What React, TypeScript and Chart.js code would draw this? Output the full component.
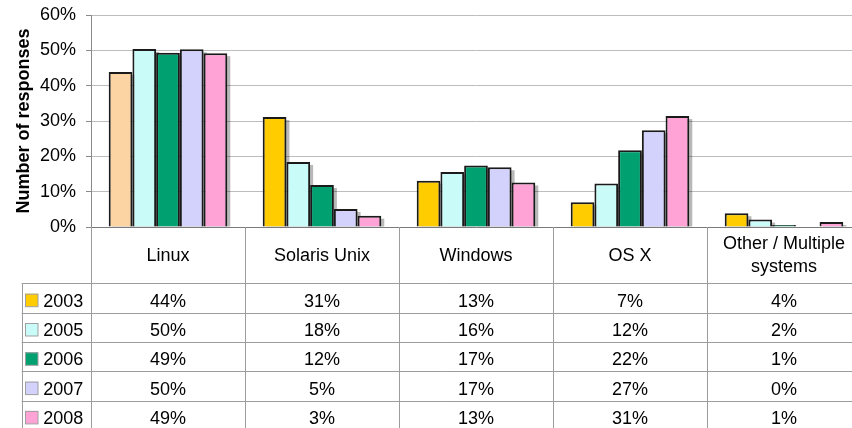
import { useEffect, useRef } from "react";
import { Chart, registerables } from "chart.js";

Chart.register(...registerables);

const categories: string[][] = [
  ["Linux"],
  ["Solaris Unix"],
  ["Windows"],
  ["OS X"],
  ["Other / Multiple", "systems"],
];
const years = ["2003", "2005", "2006", "2007", "2008"];
const values2003 = [43.9, 31.1, 13.1, 7.0, 3.9];
const values2005 = [50.4, 18.4, 15.6, 12.3, 2.1];
const values2006 = [49.3, 11.9, 17.4, 21.7, 0.6];
const values2007 = [50.3, 5.1, 16.9, 27.4, 0];
const values2008 = [49.2, 3.2, 12.6, 31.4, 1.4];
const seriesValues = [values2003, values2005, values2006, values2007, values2008];
const seriesColors = ["#FFCC00", "#C9FCF9", "#00A070", "#D2D2FC", "#FFA3D6"];
const linux2003Color = "#FCD3A3";
const yTicks = [0, 10, 20, 30, 40, 50, 60];

const FONT = "'Liberation Sans', Arial, Helvetica, sans-serif";

const shadowPlugin = {
  id: "barShadow",
  beforeDatasetsDraw(chart: any) {
    const ctx = chart.ctx;
    ctx.save();
    ctx.fillStyle = "rgba(0,0,0,0.28)";
    chart.data.datasets.forEach((_: any, di: number) => {
      const meta = chart.getDatasetMeta(di);
      meta.data.forEach((bar: any) => {
        const { x, y, base, width } = bar.getProps(["x", "y", "base", "width"], true);
        const h = base - y;
        if (h > 4) ctx.fillRect(x - width / 2 + 3, y + 3, width, h - 3);
      });
    });
    ctx.restore();
  },
};

const tablePlugin = {
  id: "dataTable",
  afterDraw(chart: any) {
    const { ctx, chartArea } = chart;
    const n = categories.length;
    const step = (chartArea.right - chartArea.left) / n;
    const top = chartArea.bottom;
    const headerBottom = top + 56.3;
    const rowH = 29.3;
    const legendLeft = 21.7;
    const tableBottom = headerBottom + rowH * years.length;
    const crisp = (v: number) => Math.round(v) + 0.5;
    ctx.save();
    ctx.strokeStyle = "#9c9c9c";
    ctx.lineWidth = 1;
    ctx.beginPath();
    for (let i = 0; i <= n; i++) {
      const x = crisp(chartArea.left + i * step);
      ctx.moveTo(x, top);
      ctx.lineTo(x, tableBottom);
    }
    ctx.moveTo(crisp(legendLeft), headerBottom);
    ctx.lineTo(crisp(legendLeft), tableBottom);
    for (let r = 0; r <= years.length; r++) {
      const y = crisp(headerBottom + r * rowH);
      ctx.moveTo(legendLeft, y);
      ctx.lineTo(chart.width, y);
    }
    ctx.stroke();

    ctx.fillStyle = "#000";
    ctx.font = `18px ${FONT}`;
    ctx.textBaseline = "alphabetic";
    ctx.textAlign = "center";
    categories.forEach((lines, i) => {
      const cx = chartArea.left + (i + 0.5) * step;
      if (lines.length === 1) {
        ctx.fillText(lines[0], cx, top + 33.7);
      } else {
        ctx.fillText(lines[0], cx, top + 22.3);
        ctx.fillText(lines[1], cx, top + 44.7);
      }
    });
    years.forEach((yr, r) => {
      const base = headerBottom + r * rowH + 23.4;
      seriesValues[r].forEach((v, i) => {
        const cx = chartArea.left + (i + 0.5) * step;
        ctx.fillText(Math.round(v) + "%", cx, base);
      });
      ctx.fillStyle = seriesColors[r];
      ctx.fillRect(25, base - 13, 13, 13);
      ctx.strokeStyle = "#a0a0a0";
      ctx.strokeRect(25.5, base - 12.5, 12.5, 12.5);
      ctx.fillStyle = "#000";
      ctx.textAlign = "left";
      ctx.fillText(yr, 43.3, base);
      ctx.textAlign = "center";
    });
    ctx.restore();
  },
};

export default function App() {
  const ref = useRef<HTMLCanvasElement>(null);
  useEffect(() => {
    document.body.style.margin = "0";
    const chart = new Chart(ref.current!, {
      type: "bar",
      data: {
        labels: categories.map((c) => c.join(" ")),
        datasets: years.map((yr, r) => ({
          label: yr,
          data: seriesValues[r],
          backgroundColor:
            r === 0
              ? seriesValues[r].map((_, i) => (i === 0 ? linux2003Color : seriesColors[r]))
              : seriesColors[r],
          borderColor: "#1a1a1a",
          borderWidth: 2,
          categoryPercentage: 0.77,
          barPercentage: 1,
        })),
      },
      options: {
        responsive: false,
        animation: false,
        devicePixelRatio: 1,
        layout: { padding: { left: 0, top: 15, right: 9, bottom: 201 } },
        plugins: { legend: { display: false }, tooltip: { enabled: false } },
        scales: {
          x: { display: false },
          y: {
            min: 0,
            max: 60,
            afterBuildTicks: (scale: any) => {
              scale.ticks = yTicks.map((v) => ({ value: v }));
            },
            afterFit: (scale: any) => {
              scale.width = 91;
              scale.paddingTop = 0;
              scale.paddingBottom = 0;
            },
            ticks: {
              callback: (v: any) => v + "%",
              color: "#000",
              font: { family: FONT, size: 18 },
              padding: 10,
            },
            grid: {
              color: (c: any) => (c.tick && c.tick.value === 0 ? "#7a7a7a" : "#bdbdbd"),
              tickColor: "#8a8a8a",
              tickLength: 5,
            },
            border: { display: true, color: "#8a8a8a", width: 1 },
            title: {
              display: true,
              text: "Number of responses",
              color: "#000",
              font: { family: FONT, size: 18, weight: "bold", lineHeight: 1.2 },
              padding: { top: 13, bottom: 0 },
            },
          },
        },
      },
      plugins: [shadowPlugin, tablePlugin],
    } as any);
    return () => chart.destroy();
  }, []);
  return (
    <div
      style={{
        position: "fixed",
        left: 0,
        top: 0,
        width: 852,
        height: 428,
        overflow: "hidden",
        background: "#fff",
      }}
    >
      <canvas ref={ref} width={870} height={428} style={{ display: "block", width: 870, height: 428 }} />
    </div>
  );
}
